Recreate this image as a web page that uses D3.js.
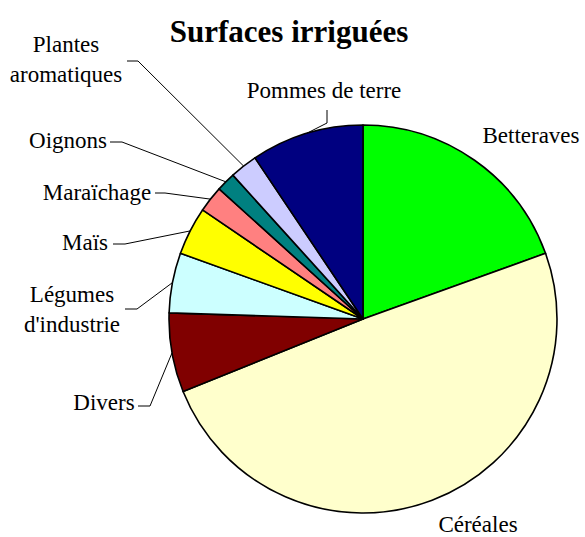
<!DOCTYPE html>
<html><head><meta charset="utf-8">
<script src="https://cdn.jsdelivr.net/npm/d3@7/dist/d3.min.js"></script>
<style>body{margin:0;background:#fff}svg{display:block}text{font-family:"Liberation Serif","Times New Roman",serif}</style>
</head><body>
<svg id="c" width="585" height="537"></svg>
<script>
const categories = ["Betteraves","Céréales","Divers","Légumes d'industrie","Maïs","Maraïchage","Oignons","Plantes aromatiques","Pommes de terre"];
const values = [19.5, 49.4, 6.6, 5.0, 4.0, 2.2, 1.6, 2.3, 9.4];
const colors = ["#00FF00","#FFFFCC","#800000","#CCFFFF","#FFFF00","#FF8080","#008080","#CCCCFF","#000080"];
const labelLines = [["Betteraves"],["Céréales"],["Divers"],["Légumes","d'industrie"],["Maïs"],["Maraïchage"],["Oignons"],["Plantes","aromatiques"],["Pommes de terre"]];
const title = "Surfaces irriguées";

// layout (label placement, leader elbows)
const cx = 363, cy = 319, R = 194;
const labelPos = [
  {x:531, y:143, leader:null},
  {x:478, y:532, leader:null},
  {x:104, y:410, leader:[[138,406],[150,406]]},
  {x:72, y:302, leader:[[125,309],[137,309]]},
  {x:85, y:250, leader:[[113,244],[125,244]]},
  {x:97, y:200, leader:[[155,193],[165,193]]},
  {x:68, y:148, leader:[[110,142],[122,142]]},
  {x:66, y:52, leader:[[127,61],[138,61]]},
  {x:324, y:98, leader:[[327,110],[327,123]]}
];

const svg = d3.select("#c");
svg.append("text").attr("x",289).attr("y",42).attr("text-anchor","middle")
  .style("font-family","'Liberation Serif', serif").style("font-weight","bold")
  .style("font-size","31px").attr("fill","#000").text(title);

const data = categories.map((c,i)=>({cat:c, value:values[i], color:colors[i], lines:labelLines[i], pos:labelPos[i]}));
const pie = d3.pie().sort(null).value(d=>d.value);
const arcs = pie(data);
const arc = d3.arc().innerRadius(0).outerRadius(R);

const g = svg.append("g").attr("transform",`translate(${cx},${cy})`);
g.selectAll("path").data(arcs).join("path")
  .attr("d",arc).attr("fill",d=>d.data.color)
  .attr("stroke","#000").attr("stroke-width",1.6).attr("stroke-linejoin","round");

// leaders
arcs.forEach(a=>{
  const p = a.data.pos;
  if(!p.leader) return;
  const mid = (a.startAngle+a.endAngle)/2;
  const ex = cx + R*Math.sin(mid), ey = cy - R*Math.cos(mid);
  const pts = p.leader.concat([[ex,ey]]);
  svg.append("polyline").attr("points",pts.map(q=>q.join(",")).join(" "))
    .attr("fill","none").attr("stroke","#000").attr("stroke-width",1);
});

// labels
arcs.forEach(a=>{
  const p = a.data.pos;
  const t = svg.append("text").attr("text-anchor","middle")
    .style("font-family","'Liberation Serif', serif")
    .style("font-size","23px").attr("fill","#000");
  a.data.lines.forEach((ln,i)=>{
    t.append("tspan").attr("x",p.x).attr("y",p.y+i*30).text(ln);
  });
});
</script>
</body></html>
